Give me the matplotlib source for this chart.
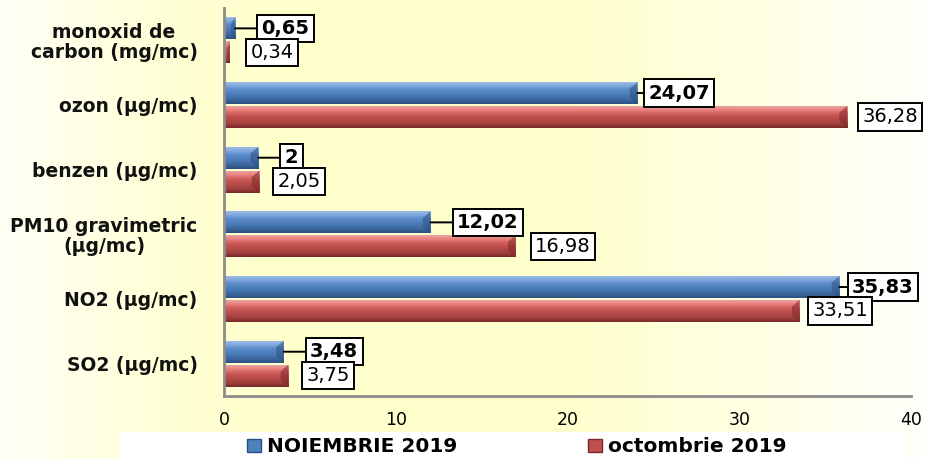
import matplotlib

matplotlib.use("Agg")

import matplotlib.pyplot as plt
import numpy as np
from matplotlib.colors import LinearSegmentedColormap
from matplotlib.patches import Patch, Polygon, Rectangle

plt.rcParams["font.family"] = ["DejaVu Sans"]

categories = [
    "monoxid de\ncarbon (mg/mc)",
    "ozon (µg/mc)",
    "benzen (µg/mc)",
    "PM10 gravimetric\n(µg/mc)",
    "NO2 (µg/mc)",
    "SO2 (µg/mc)",
]
noiembrie = [0.65, 24.07, 2, 12.02, 35.83, 3.48]
octombrie = [0.34, 36.28, 2.05, 16.98, 33.51, 3.75]
series_names = ["NOIEMBRIE 2019", "octombrie 2019"]
x_ticks = [0, 10, 20, 30, 40]

# label gap from bar end, in points (blue ones have leader lines)
blue_gap = [15, 4, 15, 15, 5, 15]
red_gap = [11, 7, 9, 10, 5, 9]

blue_shades = ["#9dbbe6", "#7fa8de", "#5f8ccb", "#4f81bd", "#4576b0", "#3a659b", "#2b4f80"]
red_shades = ["#eba3a1", "#e8817e", "#d4625f", "#c0504d", "#b24845", "#9c3d3a", "#782a28"]


def fmt(v):
    return f"{v:g}".replace(".", ",")


def bevel_bars(ax, bars, shades):
    cmap = LinearSegmentedColormap.from_list("bev", shades)
    grad = np.linspace(0, 1, 64).reshape(-1, 1)
    for p in bars.patches:
        x0, y0 = p.get_x(), p.get_y()
        w, h = p.get_width(), p.get_height()
        im = ax.imshow(grad, cmap=cmap, aspect="auto", origin="upper",
                       extent=(x0, x0 + w, y0 + h, y0), zorder=2,
                       interpolation="bilinear")
        im.set_clip_path(p)
        d = min(0.45, w * 0.4)
        end = Polygon([(x0 + w, y0), (x0 + w - d, y0 + 0.3 * h),
                       (x0 + w - d, y0 + 0.7 * h), (x0 + w, y0 + h)],
                      closed=True, facecolor=shades[-1], alpha=0.55,
                      edgecolor="none", zorder=3)
        ax.add_patch(end)


fig = plt.figure(figsize=(9.27, 4.59), dpi=100)

# background gradient for the whole picture
bg = fig.add_axes([0, 0, 1, 1], zorder=-10)
bg_cmap = LinearSegmentedColormap.from_list(
    "bg", [(0.0, "#fffff6"), (0.18, "#ffffd6"), (0.3, "#ffffcc"),
           (0.6, "#ffffcc"), (0.8, "#ffffe2"), (1.0, "#fffffb")])
bg.imshow(np.linspace(0, 1, 256).reshape(1, -1), cmap=bg_cmap, aspect="auto",
          extent=(0, 1, 0, 1))
bg.set_axis_off()
fig.patches.append(Rectangle((120 / 927, 0), 785 / 927, 27 / 459,
                             transform=fig.transFigure, facecolor="white",
                             edgecolor="none", zorder=-5))

ax = fig.add_axes([224 / 927, 63 / 459, 687 / 927, 388 / 459])
ax.patch.set_alpha(0)

y = np.arange(len(categories))
h = 0.34
off = 0.185
b1 = ax.barh(y - off, noiembrie, height=h, color=blue_shades[3], zorder=1,
             label=series_names[0])
b2 = ax.barh(y + off, octombrie, height=h, color=red_shades[3], zorder=1,
             label=series_names[1])
bevel_bars(ax, b1, blue_shades)
bevel_bars(ax, b2, red_shades)

box = dict(boxstyle="square,pad=0.22", facecolor="white", edgecolor="black",
           linewidth=1.4)
for i, v in enumerate(noiembrie):
    ax.annotate(fmt(v), xy=(v, y[i] - off), xytext=(blue_gap[i] + 4, 0),
                textcoords="offset points", ha="left", va="center",
                fontsize=14, fontweight="bold", bbox=box, zorder=5,
                annotation_clip=False,
                arrowprops=dict(arrowstyle="-", color="black", lw=1.4,
                                shrinkA=0, shrinkB=0))
for i, v in enumerate(octombrie):
    ax.annotate(fmt(v), xy=(v, y[i] + off), xytext=(red_gap[i] + 4, 0),
                textcoords="offset points", ha="left", va="center",
                fontsize=14, bbox=box, zorder=5, annotation_clip=False)

ax.set_xlim(0, 40)
ax.set_ylim(5.5, -0.5)
ax.set_xticks(x_ticks)
ax.set_yticks(y)
ax.set_yticklabels(categories, fontsize=13.5, fontweight="bold", color="#111111",
                   linespacing=1.05)
for lab in ax.get_yticklabels():
    lab.set_multialignment("center")
ax.tick_params(axis="x", length=0, pad=11, labelsize=12.5)
ax.tick_params(axis="y", length=0, pad=19)
for s in ["top", "right"]:
    ax.spines[s].set_visible(False)
for s in ["left", "bottom"]:
    ax.spines[s].set_color("#8c8c8c")
    ax.spines[s].set_linewidth(2)

handles = [Patch(facecolor=blue_shades[3], edgecolor=blue_shades[-1]),
           Patch(facecolor=red_shades[3], edgecolor=red_shades[-1])]
fig.legend(handles, series_names, loc="center", ncol=2,
           bbox_to_anchor=(517 / 927, 12 / 459), frameon=False,
           prop=dict(size=14.5, weight="bold"), handlelength=0.7,
           handleheight=0.6, handletextpad=0.3, columnspacing=6.5)

fig.savefig("out.png", dpi=100)
